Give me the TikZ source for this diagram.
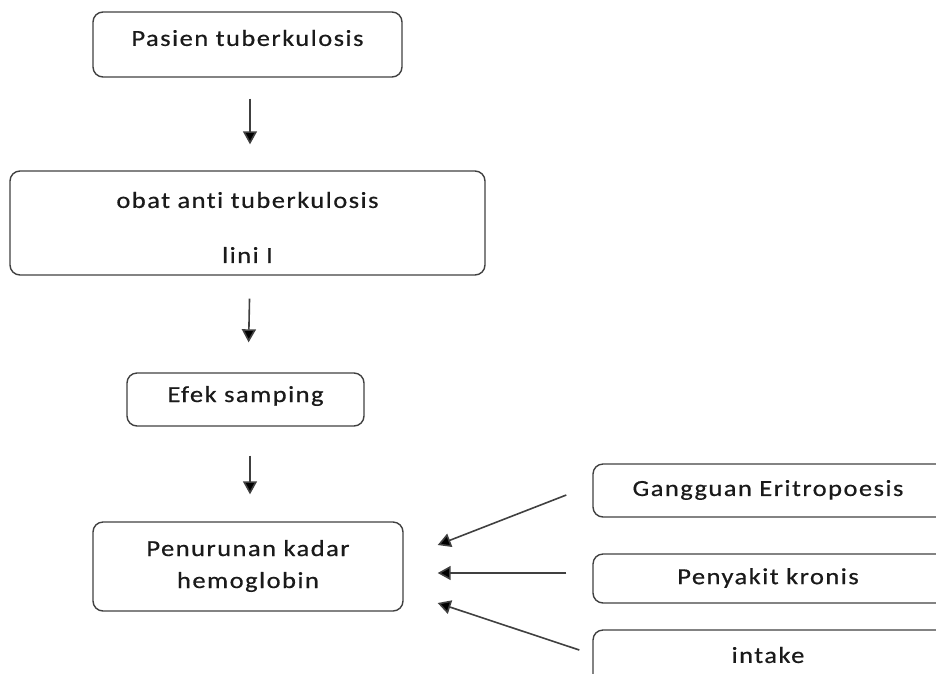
\documentclass[tikz,border=0pt]{standalone}
\usepackage{fontspec}
\setmainfont{Carlito}[FakeStretch=1.15,LetterSpace=6.5,FakeBold=0.6,Ligatures={NoCommon,NoRare}]
\usetikzlibrary{arrows.meta}
\definecolor{edge}{HTML}{404040}
\definecolor{ink}{HTML}{1A1A1A}
\tikzset{
  box/.style={draw=edge, line width=1.4pt, rounded corners=10pt, inner sep=0pt},
  txt/.style={text=ink, font=\fontsize{23}{32}\selectfont, align=center, inner sep=0pt},
  arr/.style={draw=edge, line width=1.6pt, -{Triangle[width=14pt,length=13pt,fill=black]}},
}
\begin{document}
\begin{tikzpicture}[x=1pt,y=-1pt]
\useasboundingbox (0,0) rectangle (936,673);
\clip (0,0) rectangle (936,673);
% main column boxes
\node[box, minimum width=309pt, minimum height=65pt] (b1) at (247.5,44.5) {};
\node[txt] (t1) at (247.5,38) {Pasien tuberkulosis};
\node[box, minimum width=475pt, minimum height=104pt] (b2) at (247.5,223) {};
\node[txt] (t2a) at (247.5,200) {obat an{}ti tuberkulosis};
\node[txt] (t2b) at (247.5,255) {lini I};
\node[box, minimum width=237pt, minimum height=53pt] (b3) at (245.5,399.5) {};
\node[txt] (t3) at (245.5,396) {Efek samping};
\node[box, minimum width=310pt, minimum height=89pt] (b4) at (248,566.5) {};
\node[txt] (t4) at (248,566) {Penurunan kadar\\hemoglobin};
% right boxes (cut by the frame)
\node[box, minimum width=380pt, minimum height=53pt] (r1) at (783,490.5) {};
\node[txt] (tr1) at (768,490) {Gangguan Eri{}tropoesis};
\node[box, minimum width=380pt, minimum height=49pt] (r2) at (783,578.5) {};
\node[txt] (tr2) at (768,578) {Penyakit kronis};
\node[box, minimum width=380pt, minimum height=60pt] (r3) at (783,660) {};
\node[txt] (tr3) at (768,655) {intake};
% vertical arrows
\draw[arr, shorten <=21pt, shorten >=26pt] ([xshift=2.5pt]b1.south) -- ([xshift=2.5pt]b2.north);
\draw[arr, shorten <=23pt, shorten >=30pt] ([xshift=2.5pt]b2.south) -- ([xshift=2.5pt]b3.north);
\draw[arr, shorten <=29pt, shorten >=27pt] ([xshift=4.5pt]b3.south) -- ([xshift=2pt]b4.north);
% side arrows
\draw[arr] ([shift={(-26,4.5)}]r1.west) -- ([shift={(34,-21.5)}]b4.east);
\draw[arr] ([shift={(-26,-5.5)}]r2.west) -- ([shift={(34,6.5)}]b4.east);
\draw[arr] ([shift={(-13,-10)}]r3.west) -- ([shift={(34,36.5)}]b4.east);
\end{tikzpicture}
\end{document}
